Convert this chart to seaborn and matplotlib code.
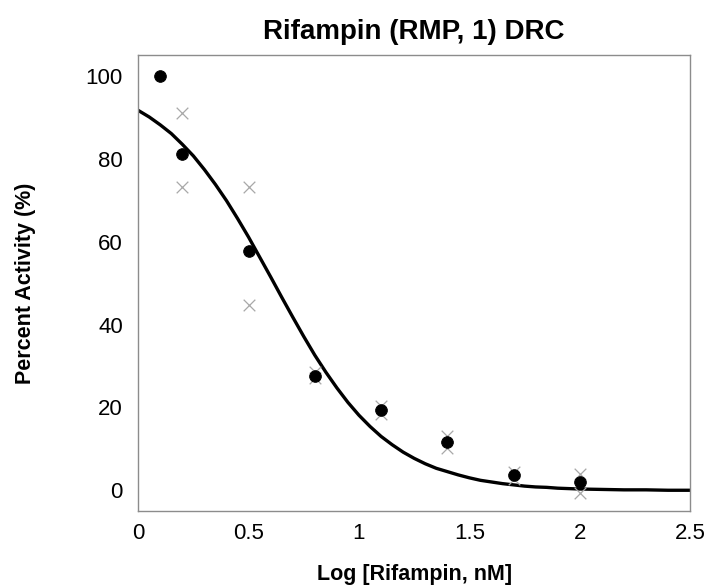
# plot.py - Rifampin dose response curve

import pandas as pd
import seaborn as sns
import matplotlib.pyplot as plt

# mean values (filled circles)
log_conc_mean = [0.1, 0.2, 0.5, 0.8, 1.1, 1.4, 1.7, 2.0]
activity_mean = [99.9, 81.2, 57.7, 27.7, 19.3, 11.7, 3.8, 2.0]

# replicate values (grey crosses)
log_conc_rep = [0.2, 0.2, 0.5, 0.5, 0.8, 0.8, 1.1, 1.1, 1.4, 1.4, 1.7, 1.7, 2.0, 2.0]
activity_rep = [91.0, 73.2, 73.2, 44.6, 28.5, 27.1, 20.3, 18.5, 13.0, 10.3, 4.4, 2.8, 4.0, -0.6]

# fitted curve
curve_x = [0.0, 0.05, 0.1, 0.15, 0.2, 0.25, 0.3, 0.35, 0.4, 0.45, 0.5, 0.55, 0.6,
           0.65, 0.7, 0.75, 0.8, 0.85, 0.9, 0.95, 1.0, 1.05, 1.1, 1.15, 1.2, 1.25,
           1.3, 1.35, 1.4, 1.45, 1.5, 1.55, 1.6, 1.65, 1.7, 1.75, 1.8, 1.85, 1.9,
           1.95, 2.0, 2.1, 2.2, 2.3, 2.4, 2.5]
curve_y = [91.7, 90.1, 88.2, 86.1, 83.5, 80.7, 77.4, 73.8, 69.9, 65.6, 61.1, 56.3, 51.5,
           46.6, 41.8, 37.1, 32.6, 28.5, 24.7, 21.2, 18.1, 15.4, 13.0, 11.0, 9.2, 7.7,
           6.4, 5.3, 4.5, 3.7, 3.0, 2.4, 2.0, 1.6, 1.3, 1.0, 0.8, 0.7, 0.5,
           0.4, 0.3, 0.2, 0.1, 0.1, 0.0, 0.0]

x_ticks = [0, 0.5, 1, 1.5, 2, 2.5]
x_tick_labels = ['0', '0.5', '1', '1.5', '2', '2.5']
y_ticks = [0, 20, 40, 60, 80, 100]

sns.set_style('white')
plt.rcParams['font.family'] = ['Liberation Sans', 'DejaVu Sans']
plt.rcParams['text.color'] = 'black'
plt.rcParams['xtick.color'] = 'black'
plt.rcParams['ytick.color'] = 'black'
plt.rcParams['axes.labelcolor'] = 'black'

fig = plt.figure(figsize=(7.05, 5.88), dpi=100)
ax = fig.add_axes([0.196, 0.131, 0.783, 0.775])

mean_df = pd.DataFrame({'x': log_conc_mean, 'y': activity_mean})
rep_df = pd.DataFrame({'x': log_conc_rep, 'y': activity_rep})
curve_df = pd.DataFrame({'x': curve_x, 'y': curve_y})

sns.lineplot(data=curve_df, x='x', y='y', color='black', linewidth=2.4, ax=ax, zorder=2)
sns.scatterplot(data=rep_df, x='x', y='y', marker='x', color='#a8a8a8', s=70,
                linewidth=0.9, ax=ax, zorder=3)
sns.scatterplot(data=mean_df, x='x', y='y', marker='o', color='black', s=70,
                edgecolor='black', ax=ax, zorder=4)

ax.set_xlim(0, 2.5)
ax.set_ylim(-5, 105)
ax.set_xticks(x_ticks)
ax.set_xticklabels(x_tick_labels)
ax.set_yticks(y_ticks)
ax.tick_params(axis='both', length=0, labelsize=16)
ax.tick_params(axis='x', pad=9)
ax.tick_params(axis='y', pad=11)

for spine in ax.spines.values():
    spine.set_color('#8c8c8c')
    spine.set_linewidth(1.0)

ax.set_title('Rifampin (RMP, 1) DRC', fontsize=20, fontweight='bold', pad=12)
ax.set_xlabel('Log [Rifampin, nM]', fontsize=15.5, fontweight='bold', labelpad=14)
ax.set_ylabel('Percent Activity (%)', fontsize=15.5, fontweight='bold', labelpad=36)

fig.savefig('out.png', dpi=100)
